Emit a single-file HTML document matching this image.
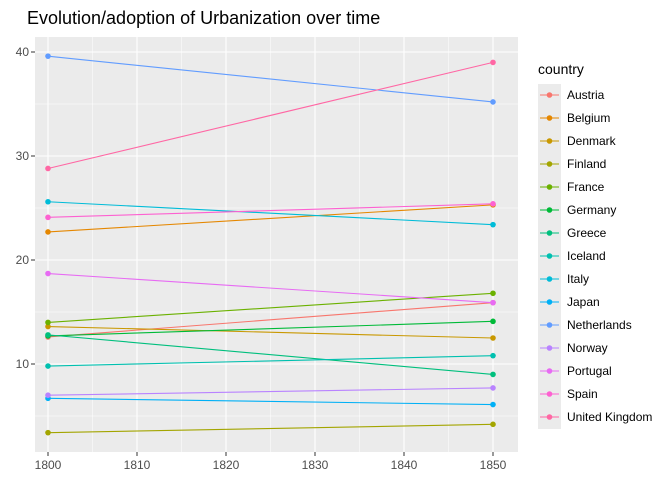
<!DOCTYPE html>
<html><head><meta charset="utf-8"><style>
body{margin:0;background:#fff;font-family:"Liberation Sans",sans-serif}
</style></head><body>
<svg id="c" width="672" height="480" xmlns="http://www.w3.org/2000/svg">
<text x="27" y="24" font-size="18" fill="#000">Evolution/adoption of Urbanization over time</text>
<rect x="35" y="37" width="483" height="415" fill="#EBEBEB"/>
<g id="grid"></g><g id="lines"></g><g id="axes"></g><g id="legend"></g>
</svg>
<script>
const countries=["Austria","Belgium","Denmark","Finland","France","Germany","Greece","Iceland","Italy","Japan","Netherlands","Norway","Portugal","Spain","United Kingdom"];
const colors=["#F8766D","#E58700","#C99800","#A3A500","#6BB100","#00BA38","#00BF7D","#00C0AF","#00BCD8","#00B0F6","#619CFF","#B983FF","#E76BF3","#FD61D1","#FF67A4"];
const years=[1800,1850];
const v1800=[12.6,22.7,13.6,3.4,14.0,12.7,12.8,9.8,25.6,6.7,39.6,7.0,18.7,24.1,28.8];
const v1850=[15.9,25.3,12.5,4.2,16.8,14.1,9.0,10.8,23.4,6.1,35.2,7.7,15.9,25.4,39.0];
const xTicks=[1800,1810,1820,1830,1840,1850];
const yTicks=[10,20,30,40];
const NS="http://www.w3.org/2000/svg";
const X=v=>48+(v-1800)*(493-48)/50;
const Y=v=>364-(v-10)*10.4;
function el(t,a,p){const e=document.createElementNS(NS,t);for(const k in a)e.setAttribute(k,a[k]);p.appendChild(e);return e;}
const g=document.getElementById('grid'),L=document.getElementById('lines'),A=document.getElementById('axes'),G=document.getElementById('legend');
for(let i=0;i<xTicks.length-1;i++){const m=(xTicks[i]+xTicks[i+1])/2;const e=el('line',{x1:X(m),x2:X(m),y1:37,y2:452,stroke:'#fff','stroke-width':0.5},g);}
for(let i=0;i<yTicks.length;i++){const m=yTicks[i]-5;if(Y(m)<452){const e=el('line',{x1:35,x2:518,y1:Y(m),y2:Y(m),stroke:'#fff','stroke-width':0.5},g);}}
{const e=el('line',{x1:35,x2:518,y1:Y(45),y2:Y(45),stroke:'#fff','stroke-width':0.5},g);}
xTicks.forEach(t=>{const e=el('line',{x1:X(t),x2:X(t),y1:37,y2:452,stroke:'#fff','stroke-width':1.1},g);
const k=el('line',{x1:X(t),x2:X(t),y1:452,y2:456,stroke:'#333'},A);
const tx=el('text',{x:X(t),y:469,'font-size':12,fill:'#4D4D4D','text-anchor':'middle'},A);tx.textContent=t;});
yTicks.forEach(t=>{const e=el('line',{x1:35,x2:518,y1:Y(t),y2:Y(t),stroke:'#fff','stroke-width':1.1},g);
el('line',{x1:31,x2:35,y1:Y(t),y2:Y(t),stroke:'#333'},A);
const tx=el('text',{x:29,y:Y(t)+4,'font-size':12,fill:'#4D4D4D','text-anchor':'end'},A);tx.textContent=t;});
countries.forEach((c,i)=>{const gg=el('g',{},L);
el('line',{x1:X(years[0]),y1:Y(v1800[i]),x2:X(years[1]),y2:Y(v1850[i]),stroke:colors[i],'stroke-width':1.1},gg);
el('circle',{cx:X(years[0]),cy:Y(v1800[i]),r:2.8,fill:colors[i]},gg);
el('circle',{cx:X(years[1]),cy:Y(v1850[i]),r:2.8,fill:colors[i]},gg);});
const lt=el('text',{x:538,y:74,'font-size':14,fill:'#000'},G);lt.textContent='country';
countries.forEach((c,i)=>{const y=95+i*23;const gg=el('g',{},G);
el('rect',{x:538,y:y-11,width:23,height:23,fill:'#EBEBEB'},gg);
el('line',{x1:540,x2:559,y1:y,y2:y,stroke:colors[i],'stroke-width':1.1},gg);
el('circle',{cx:549.5,cy:y,r:2.8,fill:colors[i]},gg);
const t=el('text',{x:567,y:y+4,'font-size':12,fill:'#000'},gg);t.textContent=c;});
</script>
</body></html>
